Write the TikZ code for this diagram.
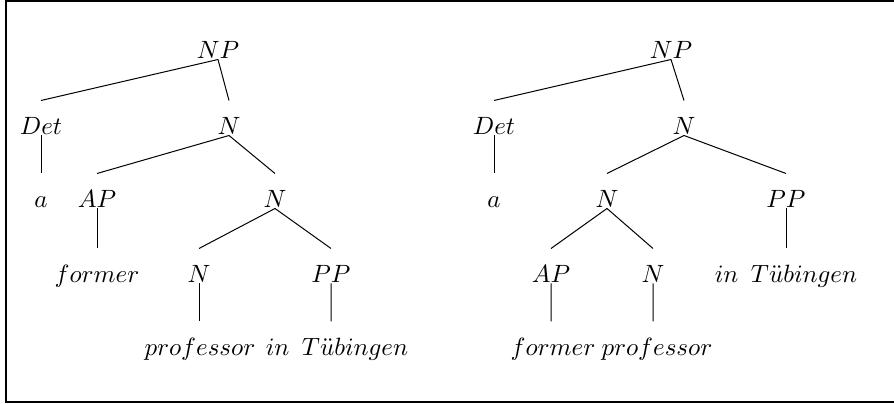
\documentclass[tikz,border=0pt]{standalone}
\usepackage{tikz}
\usepackage{amsmath}

\begin{document}
\begin{tikzpicture}
                \tikzset{x={(0.4pt, 0pt)}, y={(0pt, -0.4pt)}}
                \tikzset{cat/.style={inner sep=0pt, anchor=base, text height=13.6pt, text depth=0pt}}
                \useasboundingbox (0, 0) rectangle (894, 404);
                \draw[line width=0.95pt] (894, 1.3) -- (6.2, 1.3) -- (6.2, 402.2) -- (894, 402.2);
                \node[cat] (np1)   at (218, 59)  {$NP$};
                \node[cat] (det1)  at (41, 135)  {$Det$};
                \node[cat] (n1)    at (229, 135) {$N$};
                \node[cat] (a1)    at (41, 208)  {$a$};
                \node[cat] (ap1)   at (97, 208)  {$AP$};
                \node[cat] (nn1)   at (275, 208) {$N$};
                \node[cat] (adj1)  at (97, 283)  {$former$};
                \node[cat] (nnn1)  at (199, 283) {$N$};
                \node[cat] (pp1)   at (331, 283) {$PP$};
                \node[cat] (prof1) at (200, 356) {$professor$};
                \node[cat] (loc1)  at (337, 356) {$in\ \,T\ddot{u}bingen$};
                \draw (np1.south) -- (det1.north);
                \draw (np1.south) -- (n1.north);
                \draw (det1.south) -- (a1.north);
                \draw (n1.south) -- (ap1.north);
                \draw (n1.south) -- (nn1.north);
                \draw (ap1.south) -- (adj1.north);
                \draw (nn1.south) -- (nnn1.north);
                \draw (nn1.south) -- (pp1.north);
                \draw (nnn1.south) -- ([xshift=-0.4pt]prof1.north);
                \draw (pp1.south) -- ([xshift=-2.4pt]loc1.north);
                \node[cat] (np2)   at (671, 59)  {$NP$};
                \node[cat] (det2)  at (494, 135) {$Det$};
                \node[cat] (n2)    at (684, 135) {$N$};
                \node[cat] (a2)    at (494, 208) {$a$};
                \node[cat] (nn2)   at (607, 208) {$N$};
                \node[cat] (pp2)   at (786, 208) {$PP$};
                \node[cat] (ap2)   at (551, 283) {$AP$};
                \node[cat] (nnn2)  at (653, 283) {$N$};
                \node[cat] (loc2)  at (786, 283) {$in\ \,T\ddot{u}bingen$};
                \node[cat] (adj2)  at (553, 356) {$former$};
                \node[cat] (prof2) at (657, 356) {$professor$};
                \draw (np2.south) -- (det2.north);
                \draw (np2.south) -- (n2.north);
                \draw (det2.south) -- (a2.north);
                \draw (n2.south) -- (nn2.north);
                \draw (n2.south) -- (pp2.north);
                \draw (nn2.south) -- (ap2.north);
                \draw (nn2.south) -- (nnn2.north);
                \draw (pp2.south) -- (loc2.north);
                \draw (ap2.south) -- ([xshift=-0.8pt]adj2.north);
                \draw (nnn2.south) -- ([xshift=-1.6pt]prof2.north);
\end{tikzpicture}
\end{document}
